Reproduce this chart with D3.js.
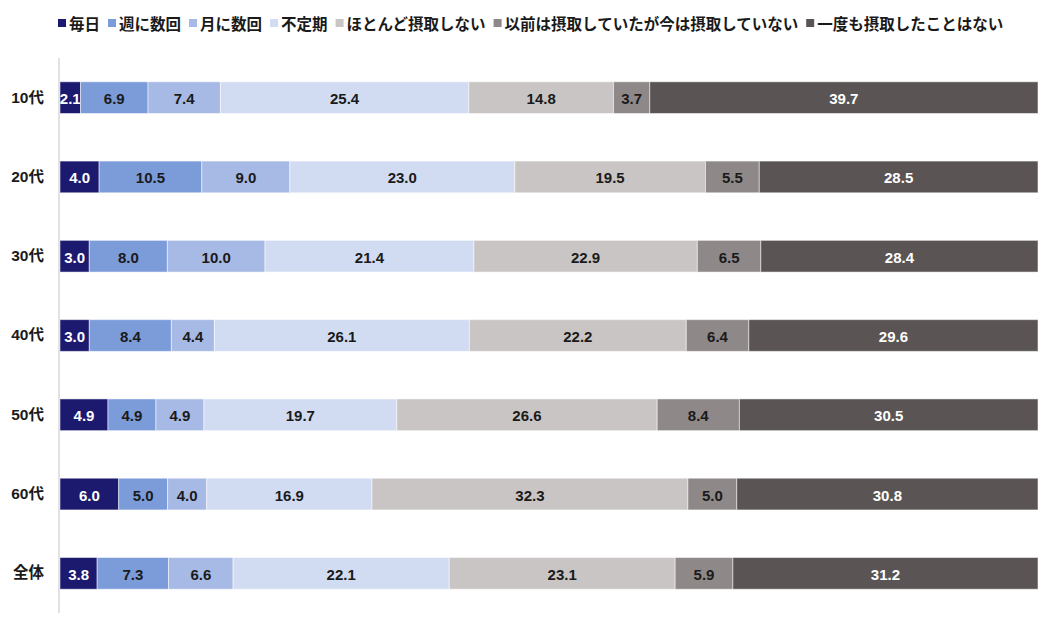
<!DOCTYPE html>
<html><head><meta charset="utf-8">
<script src="https://cdn.jsdelivr.net/npm/d3@7"></script>
<style>body{margin:0;background:#fff;}svg{display:block;font-family:"Liberation Sans","Noto Sans CJK JP",sans-serif;}</style>
</head><body><svg id="c" width="1058" height="633"></svg>
<script>
const categories = ["10代","20代","30代","40代","50代","60代","全体"];
const seriesNames = ["毎日","週に数回","月に数回","不定期","ほとんど摂取しない","以前は摂取していたが今は摂取していない","一度も摂取したことはない"];
const daily      = [2.1, 4.0, 3.0, 3.0, 4.9, 6.0, 3.8];
const weekly     = [6.9, 10.5, 8.0, 8.4, 4.9, 5.0, 7.3];
const monthly    = [7.4, 9.0, 10.0, 4.4, 4.9, 4.0, 6.6];
const irregular  = [25.4, 23.0, 21.4, 26.1, 19.7, 16.9, 22.1];
const rarely     = [14.8, 19.5, 22.9, 22.2, 26.6, 32.3, 23.1];
const formerly   = [3.7, 5.5, 6.5, 6.4, 8.4, 5.0, 5.9];
const never      = [39.7, 28.5, 28.4, 29.6, 30.5, 30.8, 31.2];
const seriesValues = [daily, weekly, monthly, irregular, rarely, formerly, never];
const colors = ["#1b1a6f","#7b9bd9","#a7b9e5","#d1dcf3","#c9c5c4","#8e8888","#5a5454"];
const labelColors = ["#fff","#1a1a1a","#1a1a1a","#1a1a1a","#1a1a1a","#1a1a1a","#fff"];

const svg = d3.select("#c");
const mLeft = 60, mRight = 1038, mTop = 58, mBottom = 613;

const rows = categories.map((c,i)=>{const r={cat:c}; seriesNames.forEach((s,j)=>r[s]=seriesValues[j][i]); return r;});
const stack = d3.stack().keys(seriesNames).offset(d3.stackOffsetExpand)(rows);

const x = d3.scaleLinear().domain([0, 1]).range([mLeft, mRight]);
const y = d3.scaleBand().domain(categories).range([mTop, mBottom]).paddingInner(0.6).paddingOuter(0.3);

const g = svg.append("g");
stack.forEach((layer, j) => {
  const key = layer.key;
  const lg = g.append("g");
  lg.selectAll("rect").data(layer).join("rect")
    .attr("x", d => x(d[0])).attr("y", d => y(d.data.cat))
    .attr("width", d => x(d[1]) - x(d[0])).attr("height", y.bandwidth())
    .attr("fill", colors[j]).attr("stroke", "rgba(255,255,255,0.5)").attr("stroke-width", 1);
  lg.selectAll("text").data(layer).join("text")
    .attr("x", d => (x(d[0]) + x(d[1])) / 2).attr("y", d => y(d.data.cat) + y.bandwidth()/2 + 1)
    .attr("text-anchor", "middle").attr("dominant-baseline", "central")
    .attr("font-size", 15).attr("font-weight", "bold").attr("fill", labelColors[j])
    .text(d => d.data[key].toFixed(1));
});

// axis
const yAxis = svg.append("g").attr("transform", `translate(${mLeft-1},0)`).call(d3.axisLeft(y).tickSize(0).tickPadding(15));
yAxis.select(".domain").attr("stroke", "#d9d9d9").attr("stroke-width", 1.5).attr("d", `M0,${mTop}V${mBottom}`);
yAxis.selectAll("text").attr("font-size", 15.5).attr("font-weight", "bold").attr("fill", "#1a1a1a")
  .attr("font-family", '"Liberation Sans","Noto Sans CJK JP",sans-serif');

// legend
const leg = svg.append("g").attr("transform", "translate(58,23)");
let lx = 0;
seriesNames.forEach((s, j) => {
  const it = leg.append("g").attr("transform", `translate(${lx},0)`);
  it.append("rect").attr("x", 0).attr("y", -4).attr("width", 8).attr("height", 8).attr("fill", colors[j]);
  const t = it.append("text").attr("x", 11).attr("y", 0).attr("dominant-baseline", "central")
    .attr("font-size", 15.5).attr("font-weight", "bold").attr("fill", "#1a1a1a")
    .attr("font-family", '"Noto Sans CJK JP",sans-serif').text(s);
  lx += 11 + t.node().getComputedTextLength() + 8;
});
</script></body></html>
